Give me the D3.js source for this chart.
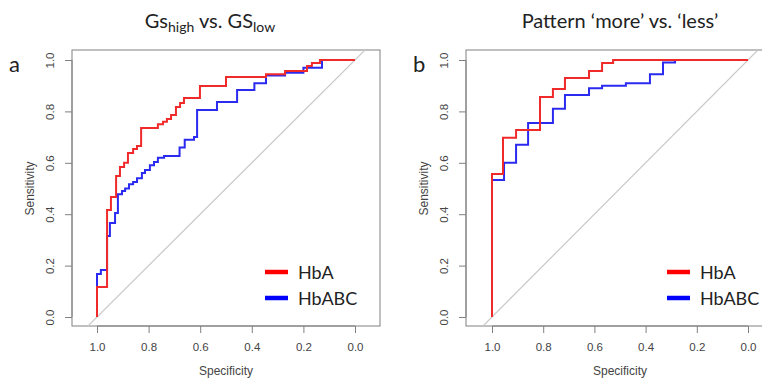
<!DOCTYPE html>
<html>
<head>
<meta charset="utf-8">
<script src="https://cdn.jsdelivr.net/npm/d3@7"></script>
<style>
  body { margin: 0; background: #fff; }
  svg { display: block; }
  .tick-label { font-family: "Liberation Sans", Arial, sans-serif; font-size: 11.5px; fill: #444; }
  .axis-title { font-family: "Liberation Sans", Arial, sans-serif; font-size: 12px; fill: #444; }
  .title { font-family: Lato, "Open Sans", sans-serif; font-size: 20px; fill: #222; }
  .legend-text { font-family: Lato, "Open Sans", sans-serif; font-size: 18px; fill: #222; }
</style>
</head>
<body>
<div id="chart"></div>
<script>
// ROC points (specificity, sensitivity)
const aHbA_sp = [1, 1, 0.961, 0.946, 0.926, 0.911, 0.895, 0.880, 0.860, 0.845, 0.829, 0.764, 0.744, 0.729, 0.713, 0.694, 0.678, 0.663, 0.601, 0.500, 0.345, 0.271, 0.186, 0.167, 0.136, 0];
const aHbA_se = [0, 0.117, 0.416, 0.467, 0.549, 0.584, 0.60, 0.638, 0.654, 0.665, 0.735, 0.75, 0.76, 0.77, 0.786, 0.817, 0.833, 0.852, 0.899, 0.934, 0.945, 0.957, 0.977, 0.988, 1.0, 1.0];

const aHbABC_sp = [1, 1, 0.985, 0.961, 0.95, 0.93, 0.919, 0.903, 0.891, 0.876, 0.86, 0.845, 0.826, 0.814, 0.795, 0.779, 0.764, 0.74, 0.68, 0.66, 0.624, 0.612, 0.535, 0.457, 0.39, 0.345, 0.271, 0.2, 0.128, 0];
const aHbABC_se = [0, 0.167, 0.183, 0.315, 0.366, 0.405, 0.478, 0.49, 0.50, 0.517, 0.525, 0.54, 0.56, 0.572, 0.59, 0.603, 0.62, 0.626, 0.66, 0.69, 0.70, 0.805, 0.837, 0.883, 0.91, 0.94, 0.95, 0.97, 1.0, 1.0];

const bHbA_sp = [1, 1, 0.957, 0.906, 0.8125, 0.762, 0.715, 0.621, 0.57, 0.527, 0];
const bHbA_se = [0, 0.556, 0.697, 0.728, 0.856, 0.887, 0.93, 0.957, 0.988, 1.0, 1.0];

const bHbABC_sp = [1, 1, 0.953, 0.906, 0.859, 0.762, 0.715, 0.621, 0.57, 0.477, 0.383, 0.332, 0.285, 0];
const bHbABC_se = [0, 0.533, 0.60, 0.67, 0.755, 0.81, 0.864, 0.89, 0.90, 0.91, 0.945, 0.99, 1.0, 1.0];

const tickValues = [0, 0.2, 0.4, 0.6, 0.8, 1.0];
const seriesNames = ['HbA', 'HbABC'];
const seriesColors = ['#ff0000', '#0000ff'];

const panels = [
  { key: 'a', label: 'a', box: [72, 380], zero: [97, 355], labelX: 9,
    titleX: 210, title: [['Gs', 0], ['high', 1], [' vs. GS', 0], ['low', 1]],
    series: [[aHbABC_sp, aHbABC_se], [aHbA_sp, aHbA_se]], legendX: 265 },
  { key: 'b', label: 'b', box: [466, 773], zero: [492, 748], labelX: 413,
    titleX: 620, title: [['Pattern \u2018more\u2019  vs. \u2018less\u2019', 0]],
    series: [[bHbABC_sp, bHbABC_se], [bHbA_sp, bHbA_se]], legendX: 667 }
];

const W = 762, H = 378;
const boxTop = 50, boxBottom = 326;
const y = d3.scaleLinear().domain([0, 1]).range([317, 60]);

const svg = d3.select('#chart').append('svg')
  .attr('width', W).attr('height', H);

panels.forEach(p => {
  const x = d3.scaleLinear().domain([1, 0]).range(p.zero);
  const g = svg.append('g');

  g.append('clipPath').attr('id', 'clip-' + p.key)
    .append('rect')
    .attr('x', p.box[0]).attr('y', boxTop)
    .attr('width', p.box[1] - p.box[0]).attr('height', boxBottom - boxTop);

  // box
  g.append('rect')
    .attr('x', p.box[0]).attr('y', boxTop)
    .attr('width', p.box[1] - p.box[0]).attr('height', boxBottom - boxTop)
    .attr('fill', 'none').attr('stroke', '#808080').attr('stroke-width', 1);

  // diagonal reference line
  g.append('line')
    .attr('clip-path', `url(#clip-${p.key})`)
    .attr('x1', x(1.3)).attr('y1', y(-0.3))
    .attr('x2', x(-0.3)).attr('y2', y(1.3))
    .attr('stroke', '#c8c8c8').attr('stroke-width', 1.2);

  // axes
  const xAxis = g.append('g')
    .attr('transform', `translate(0,${boxBottom})`)
    .call(d3.axisBottom(x).tickValues(tickValues).tickSize(7).tickFormat(d3.format('.1f')));
  xAxis.select('.domain').attr('stroke', '#808080').attr('d', `M${x(1)},0H${x(0)}`);
  xAxis.selectAll('.tick line').attr('stroke', '#808080');
  xAxis.selectAll('.tick text').attr('class', 'tick-label').attr('y', 17).attr('dy', '0.71em');

  const yAxis = g.append('g')
    .attr('transform', `translate(${p.box[0]},0)`)
    .call(d3.axisLeft(y).tickValues(tickValues).tickSize(7).tickFormat(d3.format('.1f')));
  yAxis.select('.domain').attr('stroke', '#808080').attr('d', `M0,${y(0)}V${y(1)}`);
  yAxis.selectAll('.tick line').attr('stroke', '#808080');
  yAxis.selectAll('.tick text')
    .attr('class', 'tick-label')
    .attr('x', null).attr('dy', null)
    .attr('text-anchor', 'middle')
    .attr('transform', 'translate(-18,0) rotate(-90)');

  g.append('text').attr('class', 'axis-title')
    .attr('x', (x(1) + x(0)) / 2).attr('y', 375)
    .attr('text-anchor', 'middle').text('Specificity');

  g.append('text').attr('class', 'axis-title')
    .attr('transform', `translate(${p.box[0] - 38},${y(0.5)}) rotate(-90)`)
    .attr('text-anchor', 'middle').text('Sensitivity');

  // ROC curves
  const line = d3.line()
    .x(d => x(d[0])).y(d => y(d[1]))
    .curve(d3.curveStepAfter);

  p.series.forEach((s, i) => {
    const pts = s[0].map((sp, k) => [sp, s[1][k]]);
    g.append('path')
      .attr('clip-path', `url(#clip-${p.key})`)
      .attr('d', line(pts))
      .attr('fill', 'none')
      .attr('stroke', i === 0 ? '#2a2af0' : '#f02a2a')
      .attr('stroke-width', 2)
      .attr('stroke-linejoin', 'miter');
  });

  // title
  const t = g.append('text').attr('class', 'title')
    .attr('x', p.titleX).attr('y', 28).attr('text-anchor', 'middle');
  p.title.forEach(([txt, sub]) => {
    t.append('tspan')
      .attr('font-size', sub ? '14px' : null)
      .attr('baseline-shift', sub ? '-4' : null)
      .text(txt);
  });

  // panel letter
  g.append('text')
    .attr('x', p.labelX).attr('y', 72)
    .attr('font-family', 'Lato, "Open Sans", sans-serif')
    .attr('font-size', '22px').attr('fill', '#222')
    .text(p.label);

  // legend
  const legend = g.append('g').attr('transform', `translate(${p.legendX},272)`);
  seriesNames.forEach((name, i) => {
    legend.append('line')
      .attr('x1', 0).attr('x2', 23)
      .attr('y1', i * 26).attr('y2', i * 26)
      .attr('stroke', seriesColors[i]).attr('stroke-width', 4.5);
    legend.append('text').attr('class', 'legend-text')
      .attr('x', 33).attr('y', i * 26 + 7)
      .text(name);
  });
});
</script>
</body>
</html>
